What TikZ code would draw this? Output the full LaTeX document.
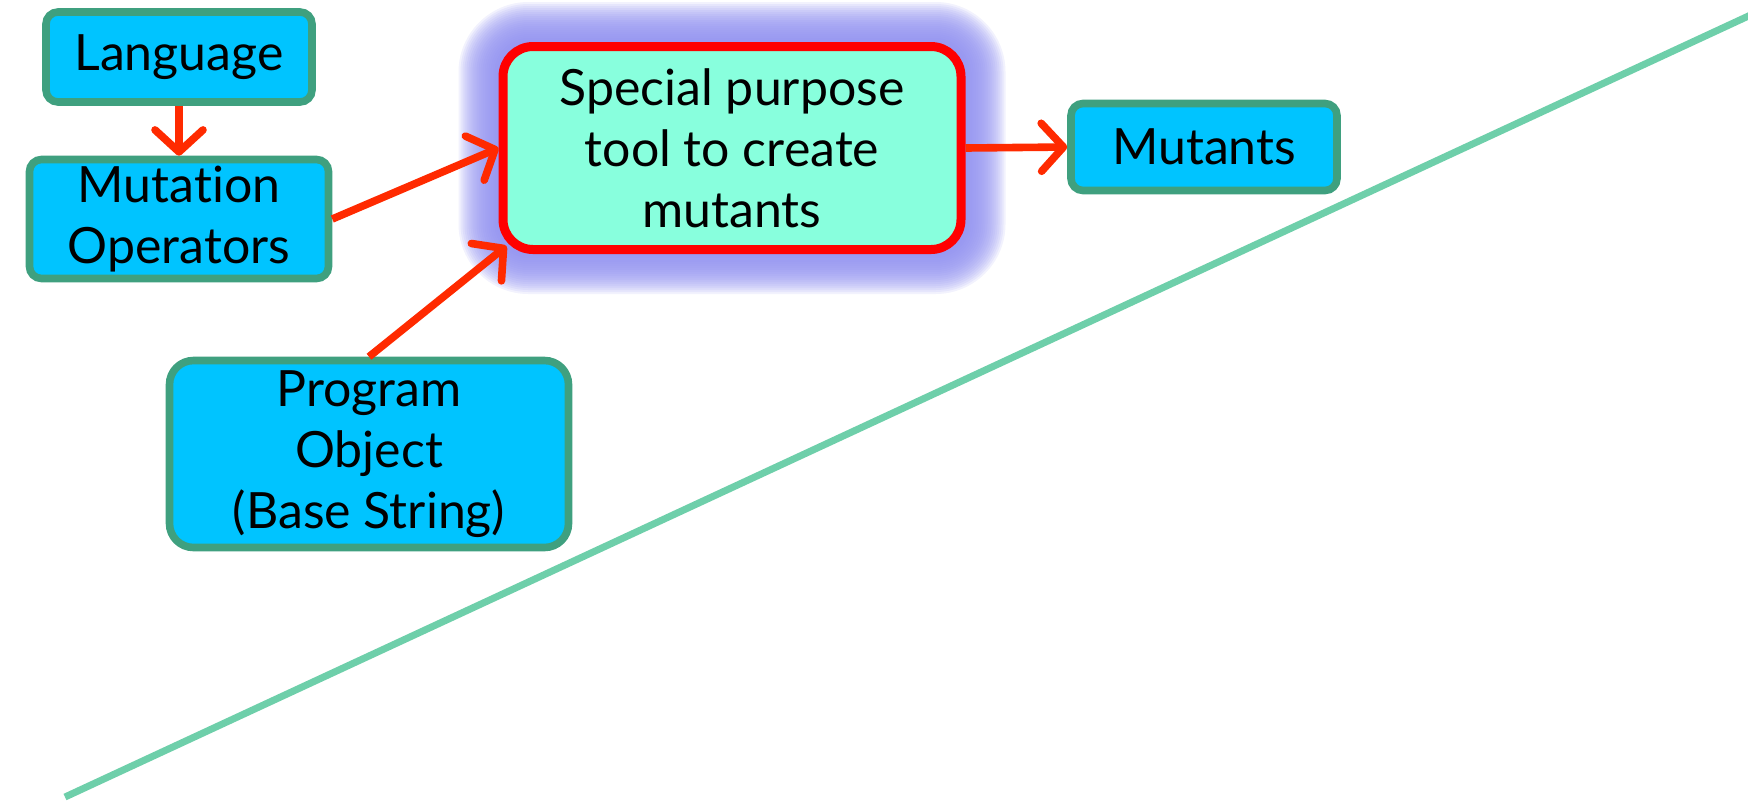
\documentclass[tikz,border=0pt]{standalone}
\usepackage{fontspec}
\setmainfont{Lato}[Ligatures=NoCommon]
\usetikzlibrary{arrows.meta,backgrounds}
\definecolor{boxblue}{RGB}{0,196,255}
\definecolor{boxedge}{RGB}{63,160,127}
\definecolor{toolfill}{RGB}{136,255,221}
\definecolor{toolred}{RGB}{255,0,0}
\definecolor{glowblue}{RGB}{145,145,240}
\definecolor{arrowred}{RGB}{255,42,0}
\definecolor{linegreen}{RGB}{110,207,170}

\begin{document}
\begin{tikzpicture}[x=0.5pt,y=-0.5pt,
    box/.style={draw=boxedge,fill=boxblue,line width=3.8pt,rounded corners=6pt,
      align=center,inner sep=0pt,font=\fontsize{25}{30.5}\selectfont},
    toolbox/.style={draw=toolred,fill=toolfill,line width=4.5pt,rounded corners=15pt,
      align=center,inner sep=0pt,font=\fontsize{25}{30.5}\selectfont},
    feed/.style={arrowred,line width=3.8pt,-{Straight Barb[length=11pt,width=24pt,round]}}]
    \useasboundingbox (0,0) rectangle (1748,800);
    % the diagonal rule
    \coordinate (lo) at (65,797);
    \coordinate (hi) at (1770,6);
    \draw[linegreen,line width=3.5pt] (lo) -- (hi);
    % inputs
    \node[box,minimum width=133pt,minimum height=45pt] (lang) at (179,57) {Language};
    \node[box,minimum width=149.5pt,minimum height=59.5pt] (ops) at (179,219) {Mutation\\Operators};
    \node[box,minimum width=199.5pt,minimum height=93.5pt,rounded corners=12pt] (prog) at (369,454) {Program\\Object\\(Base String)};
    % the tool and its output
    \node[toolbox,minimum width=229pt,minimum height=101.5pt] (tool) at (732,148) {Special purpose\\tool to create\\mutants};
    \node[box,minimum width=133pt,minimum height=43.5pt] (mut) at (1204,147) {Mutants};
    % soft halo round the tool
    \begin{scope}[on background layer]
      \foreach \g in {1,...,20}
        \fill[glowblue,opacity=0.12,rounded corners=(15+\g)*1pt]
          ([shift={(-\g pt,\g pt)}]tool.north west) rectangle ([shift={(\g pt,-\g pt)}]tool.south east);
    \end{scope}
    \draw[feed] (lang.south) -- (ops.north);
    \draw[feed] (ops.east) -- (tool.west);
    \draw[feed] (prog.north) -- ([shift={(4pt,4pt)}]tool.south west);
    \draw[feed] (tool.east) -- (mut.west);
\end{tikzpicture}
\end{document}
